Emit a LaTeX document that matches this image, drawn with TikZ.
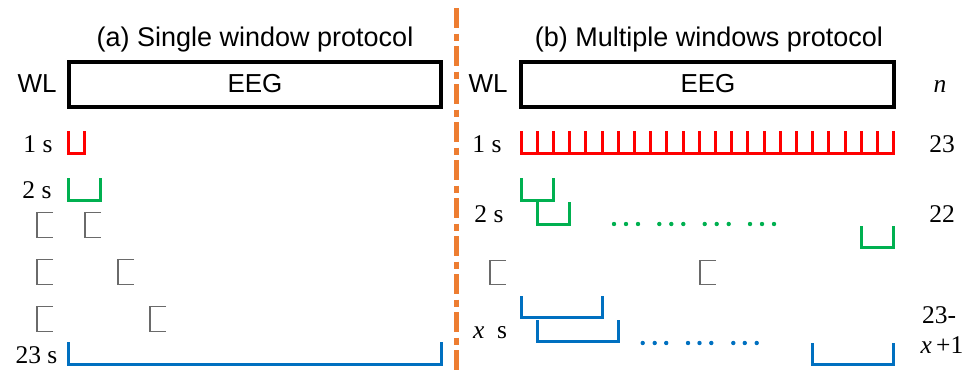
\documentclass[tikz,border=0pt]{standalone}
\usepackage{fontspec}
\setmainfont{Liberation Serif}
\setsansfont{Liberation Sans}
\definecolor{cred}{HTML}{FF0000}
\definecolor{cgreen}{HTML}{00B050}
\definecolor{cblue}{HTML}{0070C0}
\definecolor{corange}{HTML}{ED7D31}
\definecolor{cgray}{HTML}{6A6A6A}
\newcommand\wbracket[5]{\draw[#1] (#2,#4) |- (#3,#5) -- (#3,#4);}
\newcommand\gbracket[3]{\draw[graybr] (#1+16,#2) -| (#1,#3) -- (#1+16,#3);}
\begin{document}
\begin{tikzpicture}[x=1pt,y=-1pt,
  titlelab/.style={font=\fontsize{27}{32}\selectfont\sffamily, inner sep=0pt, anchor=base},
  sanslab/.style={font=\fontsize{26}{30}\selectfont\sffamily, inner sep=0pt, anchor=base},
  serlab/.style={font=\fontsize{25.5}{30}\selectfont, inner sep=0pt, anchor=base},
  eegbox/.style={draw=black, line width=4pt},
  br/.style={line width=3pt, line join=miter},
  graybr/.style={draw=cgray, line width=1.3pt},
  dotst/.style={circle, inner sep=0pt, minimum size=4.4pt}]
\useasboundingbox (0,0) rectangle (972,375);
% divider
\coordinate (dtop) at (456.5,8);
\coordinate (dbot) at (456.5,375);
\draw[corange, line width=5pt, dash pattern=on 20pt off 5.5pt on 7pt off 5.5pt] (dtop) -- (dbot);
% ---------- (a)
\node[titlelab] (ta) at (255,46) {(a) Single window protocol};
\draw[eegbox] (69,62) rectangle (441,107);
\node[sanslab] (eega) at (255,92) {EEG};
\node[sanslab] (wla) at (37,92) {WL};
\node[serlab] (l1a) at (38,152) {1 s};
\node[serlab] (l2a) at (37,198) {2 s};
\node[serlab] (l23a) at (36.5,363) {23 s};
\wbracket{br,cred}{68.5}{84.7}{131}{153.5}
\wbracket{br,cgreen}{68.5}{100.9}{178}{200.5}
\wbracket{br,cblue}{68.5}{441.1}{342}{364.5}
\gbracket{37}{212.5}{237.5}
\gbracket{85}{212.5}{237.5}
\gbracket{37}{259.5}{284.5}
\gbracket{118}{259.5}{284.5}
\gbracket{37}{306.5}{331.5}
\gbracket{150}{306.5}{331.5}
% ---------- (b)
\node[titlelab] (tb) at (709,46) {(b) Multiple windows protocol};
\draw[eegbox] (521,62) rectangle (894,107);
\node[sanslab] (eegb) at (708,92) {EEG};
\node[sanslab] (wlb) at (488,92) {WL};
\node[serlab] (nb) at (940,92) {\itshape n};
\node[serlab] (l1b) at (487,152) {1 s};
\node[serlab] (n1b) at (942,152) {23};
\node[serlab] (l2b) at (489,222) {2 s};
\node[serlab] (n2b) at (942,222) {22};
\node[serlab] (lxb) at (490,338) {\itshape x\upshape\ \ s};
\node[serlab] (nx1b) at (939,323) {23-};
\node[serlab] (nx2b) at (942,353) {\itshape x\upshape\,+1};
% red comb
\wbracket{br,cred}{521}{893.6}{131}{153.5}
\foreach \k in {1,...,22} \draw[br,cred] (521+\k*16.2,131) -- (521+\k*16.2,153.5);
% green
\wbracket{br,cgreen}{521}{553.4}{178}{200}
\wbracket{br,cgreen}{537.2}{569.6}{202}{224.5}
\wbracket{br,cgreen}{861.2}{893.6}{226}{247.5}
\foreach \xx in {614,626,638,659.3,671.3,683.3,704.7,716.7,728.7,750,762,774}
  \fill[cgreen] (\xx,224) circle (2.2pt);
% gray
\gbracket{490}{260.5}{284.5}
\gbracket{700}{260.5}{284.5}
% blue
\wbracket{br,cblue}{521}{602}{296}{317.5}
\wbracket{br,cblue}{537.2}{618.2}{320}{341.5}
\wbracket{br,cblue}{812.6}{893.6}{343}{364.5}
\foreach \xx in {642.7,654.7,666.2,688,699.5,711.3,733.3,744.8,756.7}
  \fill[cblue] (\xx,343) circle (2.2pt);
\end{tikzpicture}
\end{document}
